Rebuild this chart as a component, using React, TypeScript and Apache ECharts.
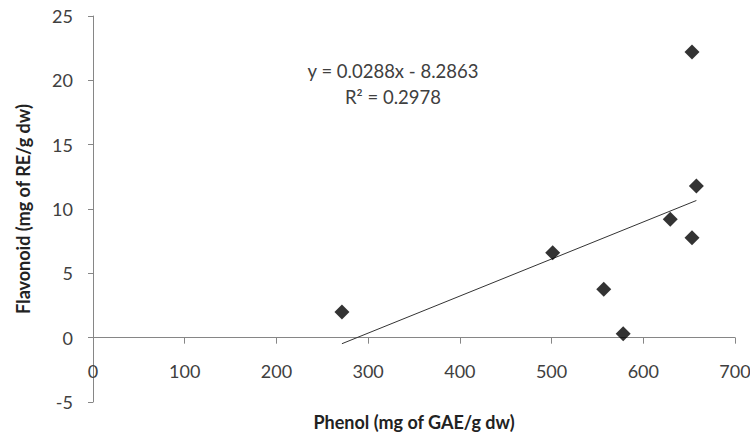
import React, { useEffect, useRef } from "react";
import * as echarts from "echarts";

const phenol = [271.4, 501.2, 556.9, 578.1, 629.4, 653.1, 657.9, 653.1];
const flavonoid = [2.0, 6.6, 3.76, 0.31, 9.2, 7.77, 11.79, 22.2];
const trendSlope = 0.0288;
const trendIntercept = -8.2863;
const rSquared = 0.2978;
const xAxisRange = [0, 700, 100];
const yAxisRange = [-5, 25, 5];
const xTitle = "Phenol (mg of GAE/g dw)";
const yTitle = "Flavonoid (mg of RE/g dw)";

const FONT = "Lato, 'Open Sans', sans-serif";

export default function App() {
  const ref = useRef<HTMLDivElement>(null);
  useEffect(() => {
    if (!ref.current) return;
    const chart = echarts.init(ref.current, null, { renderer: "svg" });
    const points = phenol.map((x, i) => [x, flavonoid[i]]);
    const xMin = Math.min(...phenol);
    const xMax = Math.max(...phenol);
    const trend = [
      [xMin, trendSlope * xMin + trendIntercept],
      [xMax, trendSlope * xMax + trendIntercept],
    ];
    const eq1 = `y = ${trendSlope.toFixed(4)}x - ${Math.abs(trendIntercept).toFixed(4)}`;
    const eq2 = `R² = ${rSquared.toFixed(4)}`;
    const axisColor = "#868686";
    const labelColor = "#404040";
    const gridTop = 16;
    const gridBottom = 36;
    const plotHeight = 438 - gridTop - gridBottom;
    // shift the x axis up so it crosses the y axis at value 0
    const zeroOffset = -plotHeight * (0 - yAxisRange[0]) / (yAxisRange[1] - yAxisRange[0]);
    chart.setOption({
      animation: false,
      backgroundColor: "#ffffff",
      grid: { left: 93, right: 15, top: gridTop, bottom: gridBottom, containLabel: false, outerBoundsMode: "none" },
      xAxis: {
        type: "value",
        min: xAxisRange[0],
        max: xAxisRange[1],
        interval: xAxisRange[2],
        position: "bottom",
        offset: zeroOffset,
        name: xTitle,
        nameLocation: "middle",
        nameGap: 75,
        nameTextStyle: { fontFamily: FONT, fontSize: 18, fontWeight: "bold", color: "#222" },
        axisLine: { onZero: false, lineStyle: { color: axisColor, width: 1 } },
        axisTick: { show: true, inside: false, length: 6, lineStyle: { color: axisColor } },
        axisLabel: { margin: 24, fontFamily: FONT, fontSize: 18, color: labelColor },
        splitLine: { show: false },
      },
      yAxis: {
        type: "value",
        min: yAxisRange[0],
        max: yAxisRange[1],
        interval: yAxisRange[2],
        name: yTitle,
        nameLocation: "middle",
        nameGap: 61,
        nameRotate: 90,
        nameTextStyle: { fontFamily: FONT, fontSize: 18, fontWeight: "bold", color: "#222" },
        axisLine: { show: true, onZero: false, lineStyle: { color: axisColor, width: 1 } },
        axisTick: { show: true, inside: false, length: 5, lineStyle: { color: axisColor } },
        axisLabel: { margin: 20, fontFamily: FONT, fontSize: 18, color: labelColor },
        splitLine: { show: false },
      },
      series: [
        {
          type: "line",
          data: trend,
          symbol: "none",
          lineStyle: { color: "#333", width: 1 },
          z: 1,
        },
        {
          type: "scatter",
          data: points,
          symbol: "diamond",
          symbolSize: 15,
          itemStyle: { color: "#000" },
          z: 2,
        },
      ],
      graphic: [
        {
          type: "text",
          x: 393,
          y: 71,
          style: {
            text: eq1,
            fontFamily: FONT,
            fontSize: 18.5,
            fill: labelColor,
            align: "center",
            verticalAlign: "middle",
          },
        },
        {
          type: "text",
          x: 393,
          y: 97,
          style: {
            text: eq2,
            fontFamily: FONT,
            fontSize: 18.5,
            fill: labelColor,
            align: "center",
            verticalAlign: "middle",
          },
        },
      ],
    });
    return () => chart.dispose();
  }, []);
  return <div ref={ref} style={{ width: 750, height: 438, position: "absolute", left: 0, top: 0 }} />;
}
